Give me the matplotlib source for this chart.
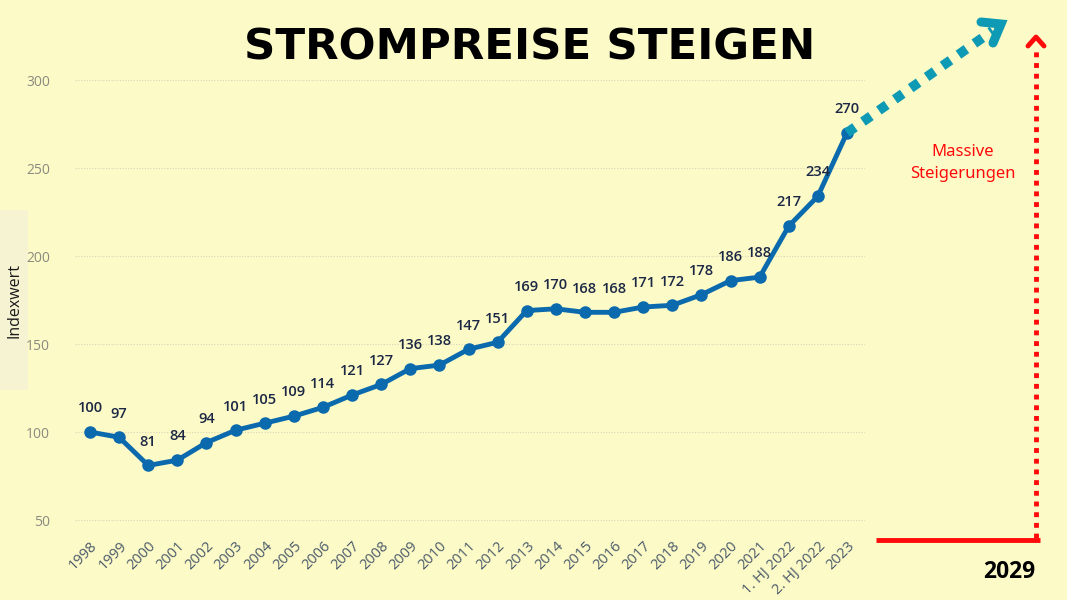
import matplotlib
matplotlib.use("Agg")
import matplotlib.pyplot as plt
from matplotlib.patches import Rectangle

# data
labels = ["1998", "1999", "2000", "2001", "2002", "2003", "2004", "2005",
          "2006", "2007", "2008", "2009", "2010", "2011", "2012", "2013",
          "2014", "2015", "2016", "2017", "2018", "2019", "2020", "2021",
          "1. HJ 2022", "2. HJ 2022", "2023"]
values = [100, 97, 81, 84, 94, 101, 105, 109, 114, 121, 127, 136, 138, 147,
          151, 169, 170, 168, 168, 171, 172, 178, 186, 188, 217, 234, 270]
yticks = [50, 100, 150, 200, 250, 300]

W, H = 1067, 600
bg = "#fcfac6"
blue = "#0a6aad"
teal = "#0e9ab5"
red = "#ff0a0a"

plt.rcParams["font.family"] = ["Open Sans", "DejaVu Sans"]

fig = plt.figure(figsize=(W / 100, H / 100), dpi=100, facecolor=bg)

# overlay in pixel coords for decorations
ov = fig.add_axes([0, 0, 1, 1], zorder=0)
ov.set_xlim(0, W)
ov.set_ylim(H, 0)
ov.axis("off")
ov.add_patch(Rectangle((0, 210), 28, 180, color="#f5f3d2", lw=0))

# main chart axes (pixel box 75..865 x, 60..536 y)
ax = fig.add_axes([75 / W, 1 - 536 / H, 790 / W, 476 / H], zorder=1)
ax.set_facecolor("none")
px_unit = 440 / 250
ax.set_ylim(50 - 16 / px_unit, 300 + 20 / px_unit)
step = (847 - 90) / 26
ax.set_xlim(-15 / step, 26 + 18 / step)

x = list(range(len(values)))
ax.plot(x, values, color=blue, lw=3.5, marker="o", ms=8, zorder=3,
        solid_joinstyle="round")
for xi, v in zip(x, values):
    ax.annotate(str(v), (xi, v), xytext=(0, 12), textcoords="offset points",
                ha="center", va="bottom", fontsize=10.5, color="#1b2745",
                fontweight="semibold")

ax.set_yticks(yticks)
ax.set_yticklabels([str(t) for t in yticks], color="#8a8a80", fontsize=10)
ax.set_xticks(x)
ax.set_xticklabels(labels, rotation=45, ha="right", rotation_mode="anchor",
                   color="#4a5a6a", fontsize=10.5)
ax.tick_params(axis="x", length=0, pad=2)
ax.tick_params(axis="y", length=0, pad=18)
ax.grid(axis="y", color="#d8d6b8", ls=(0, (1, 1.5)), lw=0.8)
for s in ax.spines.values():
    s.set_visible(False)

ov.text(14, 300, "Indexwert", rotation=90, ha="center", va="center",
        fontsize=11.5, color="#1a1a1a")

# title
ov.text(530, 47, "STROMPREISE STEIGEN", ha="center", va="center",
        fontsize=31.3, fontweight="bold", color="black",
        family=["DejaVu Sans"])

# teal dotted trend arrow from last point
ax.plot([26, 31.0], [270, 328], color=teal, lw=7, ls=(0, (1, 1.0)),
        clip_on=False, zorder=4, dash_capstyle="butt")
ov.plot([981, 1001, 993], [22, 24, 43], color=teal, lw=6.5,
        solid_capstyle="round", solid_joinstyle="miter", zorder=5)

# red axis-like lines
ov.plot([876, 1040], [540, 540], color=red, lw=3.5, solid_capstyle="butt")
ov.plot([1036, 1036], [538, 48], color=red, lw=3.5, ls=(0, (1, 1.2)))
ov.plot([1028, 1036, 1044], [46, 37, 46], color=red, lw=3.5,
        solid_capstyle="round", solid_joinstyle="round")

ov.text(963, 163, "Massive\nSteigerungen", ha="center", va="center",
        fontsize=12, color=red, linespacing=1.45, family=["Noto Sans"])
ov.text(1009, 572, "2029", ha="center", va="center", fontsize=16.5,
        fontweight="bold", color="black")

fig.savefig("out.png", dpi=100, facecolor=bg)
